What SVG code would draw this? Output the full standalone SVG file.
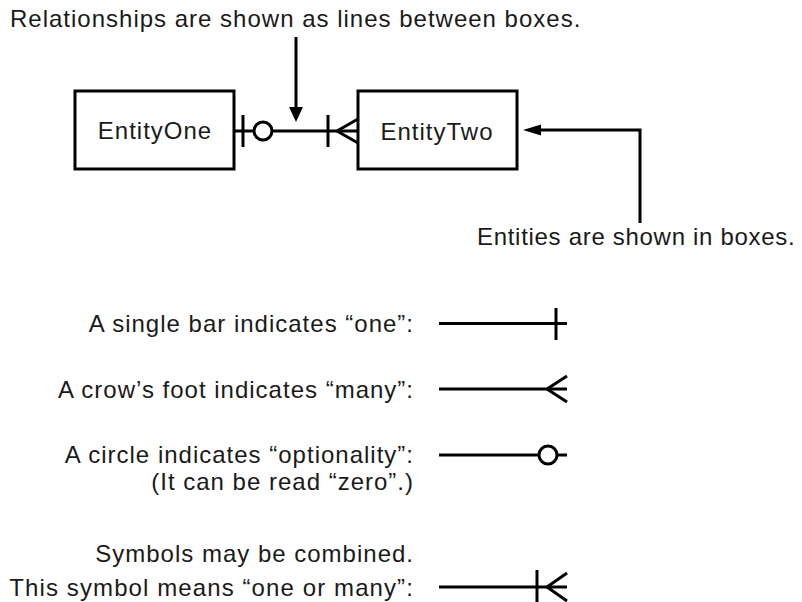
<svg xmlns="http://www.w3.org/2000/svg" width="802" height="602" viewBox="0 0 802 602">
<style>
text{font-family:"Liberation Sans",Arial,Helvetica,sans-serif;font-size:24px;fill:#1a1a1a;letter-spacing:1px}
.box{fill:#fff;stroke:#000;stroke-width:3}
.ln{stroke:#000;stroke-width:3;fill:none}
.circ{fill:#fff;stroke:#000;stroke-width:3}
.ah{fill:#000;stroke:none}
.r{text-anchor:end}
</style>
<rect width="802" height="602" fill="#fff"/>
<g id="labels">
<text x="10" y="27">Relationships are shown as lines between boxes.</text>
<text x="477" y="245" style="letter-spacing:0.7px">Entities are shown in boxes.</text>
<text class="r" x="414" y="332">A single bar indicates “one”:</text>
<text class="r" x="414" y="398">A crow’s foot indicates “many”:</text>
<text class="r" x="414" y="463">A circle indicates “optionality”:</text>
<text class="r" x="414" y="490">(It can be read “zero”.)</text>
<text class="r" x="414" y="562">Symbols may be combined.</text>
<text class="r" x="414" y="596" style="letter-spacing:1.1px">This symbol means “one or many”:</text>
</g>
<g id="connectors">
<line class="ln" x1="296" y1="37" x2="296" y2="110"/>
<polygon class="ah" points="289,107 303,107 296,122"/>
<line class="ln" x1="234" y1="131" x2="358" y2="131"/>
<line class="ln" x1="243" y1="115" x2="243" y2="147"/>
<circle class="circ" cx="263" cy="131" r="9"/>
<line class="ln" x1="328" y1="115" x2="328" y2="147"/>
<polyline class="ln" points="358,119 337,131 358,143"/>
<polyline class="ln" points="640,223 640,130 538,130"/>
<polygon class="ah" points="523,130 541,124.5 541,135.5"/>
</g>
<g id="legend">
<line class="ln" x1="439" y1="323.5" x2="567" y2="323.5"/>
<line class="ln" x1="556" y1="308" x2="556" y2="340"/>
<line class="ln" x1="439" y1="389" x2="567" y2="389"/>
<polyline class="ln" points="567,376 547,389 567,402"/>
<line class="ln" x1="439" y1="455" x2="567" y2="455"/>
<circle class="circ" cx="548" cy="455" r="9"/>
<line class="ln" x1="439" y1="587" x2="567" y2="587"/>
<line class="ln" x1="537" y1="570" x2="537" y2="604"/>
<polyline class="ln" points="567,573 547,587 567,601"/>
</g>
<g id="EntityOne">
<rect class="box" x="75" y="91" width="159" height="78"/>
<text x="155" y="139" text-anchor="middle">EntityOne</text>
</g>
<g id="EntityTwo">
<rect class="box" x="358" y="91" width="159" height="78"/>
<text x="437" y="140" text-anchor="middle">EntityTwo</text>
</g>
</svg>
